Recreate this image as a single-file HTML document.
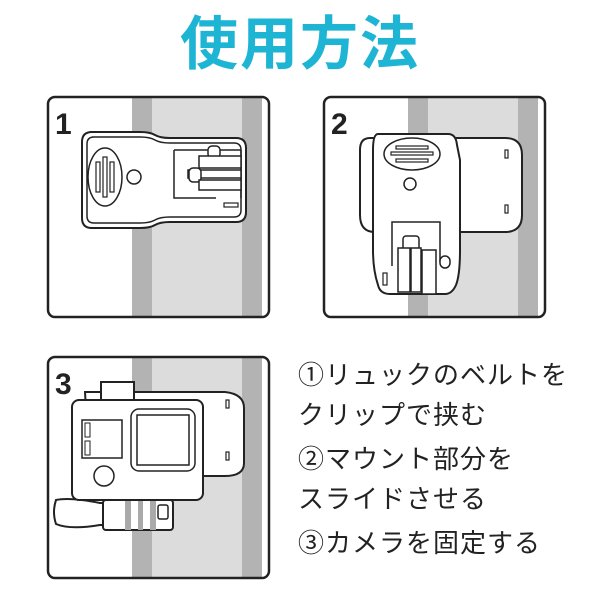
<!DOCTYPE html>
<html><head><meta charset="utf-8"><style>
body{margin:0;width:600px;height:600px;background:#fff;overflow:hidden;position:relative;font-family:"Liberation Sans","Noto Sans CJK JP",sans-serif}
.t{position:absolute;left:0;top:12px;width:600px;text-align:center;font-size:58px;font-weight:bold;color:#1eb5d5;letter-spacing:2px;line-height:66px}
.l{position:absolute;left:298px;font-size:26px;letter-spacing:1px;color:#222;white-space:nowrap;line-height:30px}
</style></head><body>
<div class="t">使用方法</div>
<svg width="600" height="600" style="position:absolute;left:0;top:0" fill="none" stroke="#222" stroke-width="2">
<!-- panel 1 -->
<g>
<rect x="132" y="98" width="130" height="218" fill="#b3b3b3" stroke="none"/>
<rect x="152" y="98" width="90" height="218" fill="#dcdcdc" stroke="none"/>
<rect x="48" y="97" width="221" height="220" rx="7" stroke-width="2.5"/>
<text x="55" y="134" font-size="30" font-weight="bold" fill="#222" stroke="none" font-family="Liberation Sans">1</text>
<path d="M90 132 H140 Q150 132 155 135 Q160 138 170 138 H236 Q246 138 246 148 V212 Q246 222 236 222 H170 Q160 222 155 225 Q150 228 140 228 H92 Q82 228 82 218 V142 Q82 132 92 132Z" fill="#fff"/>
<path d="M92 137 H140 Q150 137 155 140 Q160 143 170 143 H234 Q241 143 241 150 V210 Q241 217 234 217 H170 Q160 217 155 220 Q150 223 140 223 H94 Q87 223 87 216 V144 Q87 137 94 137Z" stroke-width="1.5"/>
<ellipse cx="105" cy="177" rx="17" ry="29" stroke-width="1.5"/>
<rect x="96" y="162" width="4" height="30" stroke-width="1.2"/><rect x="103" y="157" width="4" height="40" stroke-width="1.2"/><rect x="110" y="162" width="4" height="30" stroke-width="1.2"/>
<circle cx="134" cy="177" r="7" stroke-width="1.5"/>
<path d="M241 150 V198 M174 150 H241 M174 150 V198 H216" stroke-width="1.5"/>
<rect x="208" y="146" width="12" height="12" rx="4" fill="#fff" stroke-width="1.5"/>
<rect x="199" y="156" width="42" height="12" fill="#fff" stroke-width="1.5"/>
<rect x="188" y="170" width="53" height="8" fill="#fff" stroke-width="1.5"/>
<rect x="189" y="168" width="12" height="14" rx="4" fill="#fff" stroke-width="1.5"/>
<rect x="199" y="180" width="42" height="10" fill="#fff" stroke-width="1.5"/>
<rect x="224" y="203" width="14" height="4" stroke-width="1.2"/>
</g>
<!-- panel 2 -->
<g>
<rect x="408" y="98" width="130" height="218" fill="#b3b3b3" stroke="none"/>
<rect x="428" y="98" width="90" height="218" fill="#dcdcdc" stroke="none"/>
<rect x="324" y="97" width="221" height="220" rx="7" stroke-width="2.5"/>
<text x="331" y="134" font-size="30" font-weight="bold" fill="#222" stroke="none" font-family="Liberation Sans">2</text>
<path d="M370 138 H505 Q522 138 522 155 V215 Q522 232 505 232 H375 Q360 232 360 215 V150 Q360 138 370 138Z" fill="#fff"/>
<rect x="505" y="150" width="3" height="8" stroke-width="1.2"/><rect x="505" y="205" width="3" height="8" stroke-width="1.2"/>
<path d="M378 134 H448 Q456 134 457 145 L460 160 V250 Q460 275 456 285 Q452 294 445 294 H390 Q380 294 378 285 Q373 270 373 250 V150 Q373 134 378 134Z" fill="#fff"/>
<ellipse cx="412" cy="154" rx="28" ry="16" stroke-width="1.5"/>
<rect x="396" y="146" width="32" height="3" stroke-width="1.2"/><rect x="391" y="152" width="42" height="3" stroke-width="1.2"/><rect x="396" y="159" width="32" height="3" stroke-width="1.2"/>
<circle cx="410" cy="184" r="6" stroke-width="1.5"/>
<path d="M392 266 V222 H440 V262" stroke-width="1.5"/>
<rect x="440" y="256" width="10" height="12" rx="5" fill="#fff" stroke-width="1.5"/>
<rect x="403" y="236" width="16" height="16" rx="3" fill="#fff" stroke-width="1.5"/>
<rect x="398" y="248" width="12" height="44" fill="#fff" stroke-width="1.5"/>
<rect x="411" y="248" width="10" height="44" fill="#fff" stroke-width="1.5"/>
<rect x="422" y="250" width="14" height="44" fill="#fff" stroke-width="1.5"/>
<rect x="383" y="273" width="4" height="12" stroke-width="1.2"/>
</g>
<!-- panel 3 -->
<g>
<rect x="132" y="358" width="130" height="219" fill="#b3b3b3" stroke="none"/>
<rect x="152" y="358" width="90" height="219" fill="#dcdcdc" stroke="none"/>
<rect x="48" y="357" width="221" height="221" rx="7" stroke-width="2.5"/>
<text x="55" y="394" font-size="30" font-weight="bold" fill="#222" stroke="none" font-family="Liberation Sans">3</text>
<path d="M85 392 H225 Q244 394 244 408 V463 Q244 476 225 476 H90 Z" fill="#fff"/>
<rect x="101" y="382" width="33" height="20" fill="#fff"/>
<path d="M56 500 Q70 497 100 503 H120 V525 H100 Q70 530 56 524 Q52 512 56 500Z" fill="#fff"/>
<rect x="103" y="500" width="70" height="30" rx="3" fill="#fff"/>
<rect x="125" y="500" width="6" height="30" fill="#aaa" stroke="none"/><rect x="138" y="500" width="5" height="30" fill="#aaa" stroke="none"/><rect x="150" y="500" width="6" height="30" fill="#aaa" stroke="none"/>
<rect x="158" y="505" width="10" height="14" rx="2" stroke-width="1.5"/>
<rect x="72" y="400" width="131" height="100" rx="7" fill="#fff"/>
<rect x="82" y="420" width="40" height="38" stroke-width="1.5"/>
<rect x="85" y="423" width="5" height="14" stroke-width="1"/><rect x="85" y="441" width="5" height="14" stroke-width="1"/>
<rect x="131" y="409" width="64" height="62" rx="8" stroke-width="1.5"/>
<rect x="137" y="415" width="52" height="50" stroke-width="1.5"/>
<circle cx="104" cy="476" r="10" stroke-width="1.5"/>
<rect x="226" y="400" width="3" height="8" stroke-width="1.2"/><rect x="226" y="452" width="3" height="8" stroke-width="1.2"/>
</g>
</svg>
<div class="l" style="top:360px">①リュックのベルトを</div>
<div class="l" style="top:400px">クリップで挟む</div>
<div class="l" style="top:444px">②マウント部分を</div>
<div class="l" style="top:484px">スライドさせる</div>
<div class="l" style="top:528px">③カメラを固定する</div>
</body></html>
